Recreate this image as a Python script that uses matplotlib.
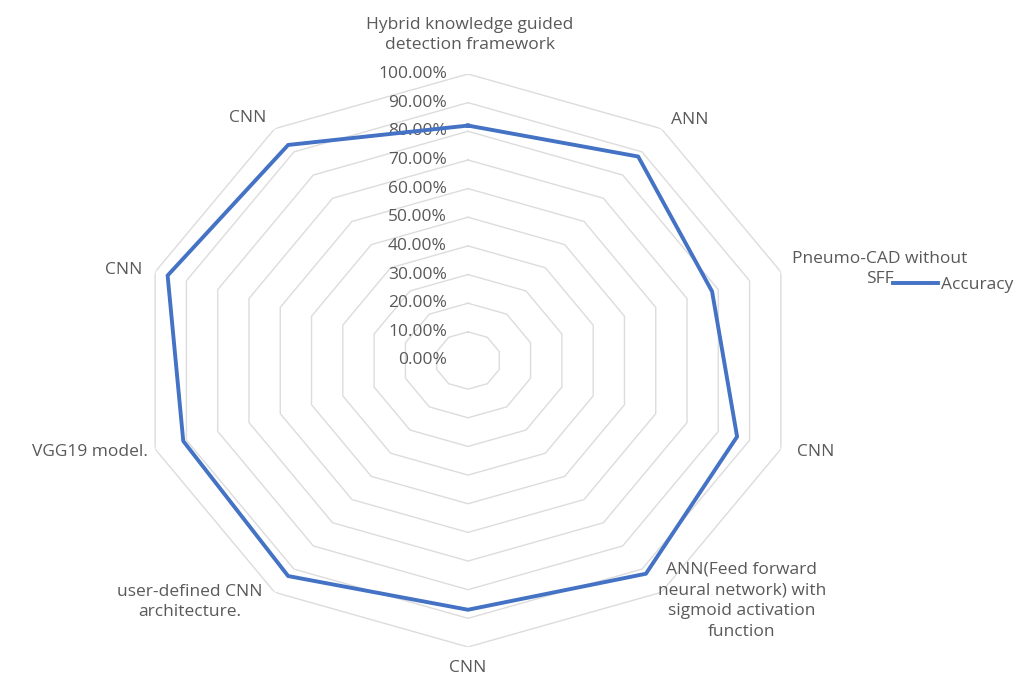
import numpy as np
import matplotlib.pyplot as plt
from matplotlib import transforms

categories = ['Hybrid knowledge guided\ndetection framework', 'ANN', 'Pneumo-CAD without\nSFF', 'CNN',
              'ANN(Feed forward\nneural network) with\nsigmoid activation\nfunction', 'CNN',
              'user-defined CNN\narchitecture.', 'VGG19 model.', 'CNN', 'CNN']
accuracy = [0.82, 0.88, 0.78, 0.86, 0.92, 0.87, 0.93, 0.91, 0.96, 0.93]
levels = [0.0, 0.1, 0.2, 0.3, 0.4, 0.5, 0.6, 0.7, 0.8, 0.9, 1.0]

plt.rcParams['font.family'] = ['Open Sans', 'DejaVu Sans']
W, H = 1028, 679
fig = plt.figure(figsize=(W / 100, H / 100), dpi=100)
ax = fig.add_axes([139 / W, 32 / H, 658 / W, 573 / H], projection='polar')
ax.set_aspect('auto')
ax.set_theta_zero_location('N')
ax.set_theta_direction(-1)

n = len(categories)
ang = np.linspace(0, 2 * np.pi, n, endpoint=False)
ang_c = np.append(ang, ang[0])

# decagon grid rings
for lv in levels[1:]:
    ax.plot(ang_c, [lv] * (n + 1), color='#dcdcdc', lw=1, zorder=1)

vals = accuracy + accuracy[:1]
ax.plot(ang_c, vals, color='#4472C4', lw=2.8, zorder=3, label='Accuracy')

ax.set_ylim(0, 1.0)
ax.set_xticks([])
ax.set_yticks([])
ax.grid(False)
ax.spines['polar'].set_visible(False)

txt_col = '#595959'
fs = 12.5
off = transforms.offset_copy(ax.transData, fig=fig, x=-21, y=0, units='dots')
for lv in levels:
    ax.text(0, lv, f'{lv * 100:.2f}%', transform=off, ha='right', va='center',
            fontsize=fs, color=txt_col, zorder=2)

# category labels (pixel positions)
lab_pos = [(470, 35, 'center'), (690, 120, 'center'), (880, 269, 'center'), (797, 452, 'left'),
           (742, 601, 'center'), (468, 668, 'center'), (190, 602, 'center'), (148, 452, 'right'),
           (142, 270, 'right'), (248, 118, 'center')]
for lab, (x, y, ha) in zip(categories, lab_pos):
    fig.text(x / W, 1 - y / H, lab, ha=ha, va='center', fontsize=fs, color=txt_col,
             multialignment='center', linespacing=1.4)

ax.legend(loc='center left', bbox_to_anchor=(893 / W, 1 - 285 / H), bbox_transform=fig.transFigure,
          frameon=False, fontsize=fs, handlelength=2.6, handletextpad=0.15, borderpad=0,
          borderaxespad=0, labelcolor=txt_col)

fig.savefig('out.png', dpi=100)
